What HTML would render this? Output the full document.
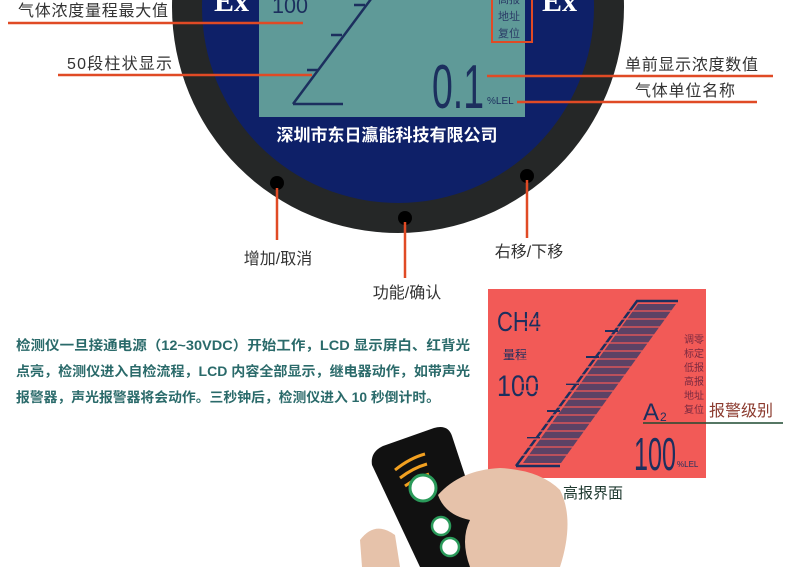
<!DOCTYPE html>
<html><head><meta charset="utf-8"><style>
html,body{margin:0;padding:0;background:#fff;width:790px;height:567px;overflow:hidden}
svg{display:block}
.s{font-family:"Liberation Sans","Noto Sans CJK SC",sans-serif}
.f{font-family:"Liberation Serif",serif;font-weight:bold}
.m{font-family:"Liberation Sans Narrow","Liberation Sans",sans-serif}
</style></head><body>
<svg width="790" height="567" viewBox="0 0 790 567">
<!-- gauge -->
<circle cx="398" cy="7" r="226" fill="#252727"/>
<circle cx="398" cy="7" r="196" fill="#0e2068"/>
<rect x="259" y="-5" width="266" height="122" fill="#5f9a98"/>
<text class="f" x="214" y="11" font-size="30" fill="#fff">Ex</text>
<text class="f" x="542" y="11" font-size="30" fill="#fff">Ex</text>
<text class="m" x="272" y="13" font-size="22" fill="#1c2f5e" textLength="36" lengthAdjust="spacingAndGlyphs">100</text>
<rect x="492" y="-5" width="40" height="47" fill="none" stroke="#e04a25" stroke-width="2"/>
<g class="s" font-size="11" fill="#2a3b66">
<text x="498" y="3">高报</text>
<text x="498" y="20">地址</text>
<text x="498" y="37">复位</text>
</g>
<g stroke="#1c2f5e" stroke-width="2.5" fill="none">
<path d="M293 104 L374 -5 M293 104 L343 104"/>
<path d="M307 70 L318 70 M331 35 L342 35 M354 5 L365 5"/>
</g>
<text class="m" x="432" y="108" font-size="62" fill="#1c2f5e" textLength="52" lengthAdjust="spacingAndGlyphs">0.1</text>
<text class="s" x="487" y="104" font-size="10" fill="#1c2f5e">%LEL</text>
<text class="s" x="387" y="141" font-size="17" font-weight="bold" fill="#fff" text-anchor="middle">深圳市东日瀛能科技有限公司</text>
<circle cx="277" cy="183" r="7" fill="#000"/>
<circle cx="405" cy="218" r="7" fill="#000"/>
<circle cx="527" cy="176" r="7" fill="#000"/>
<!-- leader lines -->
<g stroke="#e04a25" stroke-width="2.5">
<line x1="8" y1="23" x2="303" y2="23"/>
<line x1="58" y1="75" x2="312" y2="75"/>
<line x1="487" y1="76" x2="773" y2="76"/>
<line x1="517" y1="102" x2="757" y2="102"/>
<line x1="277" y1="188" x2="277" y2="240"/>
<line x1="405" y1="222" x2="405" y2="278"/>
<line x1="527" y1="180" x2="527" y2="238"/>
</g>
<g class="s" font-size="16" fill="#333">
<text x="18" y="16" textLength="150">气体浓度量程最大值</text>
<text x="67" y="69" textLength="105">50段柱状显示</text>
<text x="625" y="70" textLength="133">单前显示浓度数值</text>
<text x="635" y="96" textLength="100">气体单位名称</text>
<text x="278" y="264" text-anchor="middle">增加/取消</text>
<text x="407" y="298" text-anchor="middle">功能/确认</text>
<text x="529" y="257" text-anchor="middle">右移/下移</text>
</g>
<g class="s" font-size="13.5" font-weight="bold" fill="#2a6a6a">
<text x="16" y="350" textLength="454" lengthAdjust="spacingAndGlyphs">检测仪一旦接通电源（12~30VDC）开始工作，LCD 显示屏白、红背光</text>
<text x="16" y="376" textLength="454" lengthAdjust="spacingAndGlyphs">点亮，检测仪进入自检流程，LCD 内容全部显示，继电器动作，如带声光</text>
<text x="16" y="402" textLength="424" lengthAdjust="spacingAndGlyphs">报警器，声光报警器将会动作。三秒钟后，检测仪进入 10 秒倒计时。</text>
</g>
<!-- red lcd -->
<rect x="488" y="289" width="218" height="189" fill="#f25a57"/>
<text class="m" x="497" y="331" font-size="28" fill="#1c2f5e" textLength="44" lengthAdjust="spacingAndGlyphs">CH4</text>
<text class="s" x="503" y="359" font-size="12" fill="#1c2f5e">量程</text>
<text class="m" x="497" y="396" font-size="30" fill="#1c2f5e" textLength="42" lengthAdjust="spacingAndGlyphs">100</text>
<g stroke="#1c2f5e">
<path d="M516 466 L637 301 L678 301" stroke-width="2.5" fill="none"/>
<path d="M516 466 L560 466" stroke-width="2.5"/>
<path d="M527 438 L540 438 M547 411 L560 411 M566 384 L579 384 M586 357 L599 357 M605 331 L618 331" stroke-width="2"/>
</g>
<polygon points="523,463 638,304 676,304 561,463" fill="#2a3b6a" opacity="0.75"/>
<g stroke="#f25a57" stroke-width="1.3">
<line x1="520" y1="455" x2="680" y2="455"/><line x1="520" y1="447" x2="680" y2="447"/><line x1="520" y1="439" x2="680" y2="439"/><line x1="520" y1="431" x2="680" y2="431"/><line x1="520" y1="423" x2="680" y2="423"/><line x1="520" y1="415" x2="680" y2="415"/><line x1="520" y1="407" x2="680" y2="407"/><line x1="520" y1="399" x2="680" y2="399"/><line x1="520" y1="391" x2="680" y2="391"/><line x1="520" y1="383" x2="680" y2="383"/><line x1="520" y1="375" x2="680" y2="375"/><line x1="520" y1="367" x2="680" y2="367"/><line x1="520" y1="359" x2="680" y2="359"/><line x1="520" y1="351" x2="680" y2="351"/><line x1="520" y1="343" x2="680" y2="343"/><line x1="520" y1="335" x2="680" y2="335"/><line x1="520" y1="327" x2="680" y2="327"/><line x1="520" y1="319" x2="680" y2="319"/><line x1="520" y1="311" x2="680" y2="311"/>
</g>
<g class="s" font-size="10" fill="#7a2a40">
<text x="684" y="343">调零</text><text x="684" y="357">标定</text><text x="684" y="371">低报</text><text x="684" y="385">高报</text><text x="684" y="399">地址</text><text x="684" y="413">复位</text>
</g>
<text class="s" x="643" y="420" font-size="24" fill="#1c2f5e">A</text>
<text class="s" x="660" y="421" font-size="12" fill="#1c2f5e">2</text>
<text class="m" x="634" y="470" font-size="46" fill="#1c2f5e" textLength="42" lengthAdjust="spacingAndGlyphs">100</text>
<text class="s" x="677" y="467" font-size="8" fill="#1c2f5e">%LEL</text>
<line x1="643" y1="423" x2="783" y2="423" stroke="#1f4a30" stroke-width="1.5"/>
<text class="s" x="709" y="416" font-size="16" fill="#8b3a2e">报警级别</text>
<text class="s" x="563" y="498" font-size="15" fill="#1f3a30">高报界面</text>
<!-- remote & hand -->
<path d="M372 465 Q370 452 383 446 L434 428 Q448 424 452 436 L495 567 L420 567 Z" fill="#111"/>
<path d="M395 470 Q410 458 425 454 M400 478 Q413 468 427 464 M405 486 Q416 478 429 474" stroke="#f2a020" stroke-width="3" fill="none"/>
<circle cx="423" cy="488" r="13" fill="#fff" stroke="#2a9a5a" stroke-width="3"/>
<circle cx="441" cy="526" r="9" fill="#fff" stroke="#2a9a5a" stroke-width="2.5"/>
<circle cx="450" cy="547" r="9" fill="#fff" stroke="#2a9a5a" stroke-width="2.5"/>
<path d="M438 495 Q460 470 500 468 Q540 470 560 490 Q575 520 560 567 L470 567 Q460 540 470 520 Q445 515 438 495 Z" fill="#e6c2aa"/>
<path d="M360 540 Q375 520 395 535 L400 567 L362 567 Z" fill="#e6c2aa"/>
</svg>
</body></html>
